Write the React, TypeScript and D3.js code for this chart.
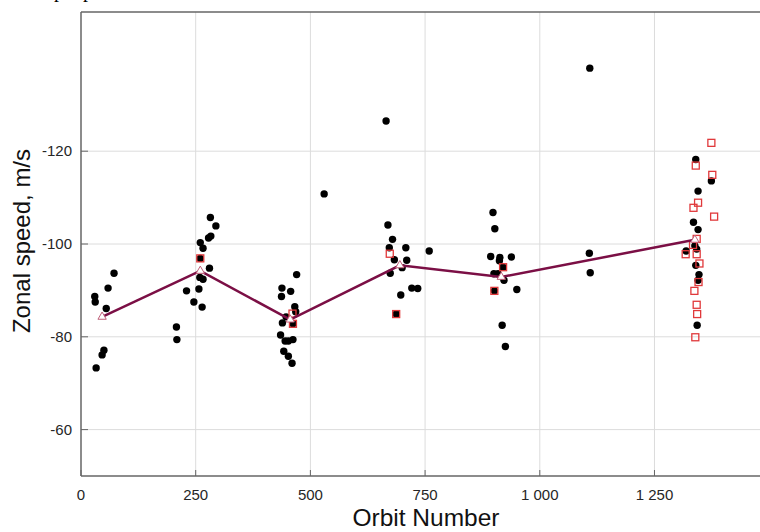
import React from 'react';
import * as d3 from 'd3';

// black dots: orbit number and zonal speed (m/s)
const dotOrbit = [
  30, 31, 72, 59, 55, 50, 46, 33,
  208, 209,
  230, 246, 257, 264, 260, 266, 282, 294, 278, 283, 280, 260, 259, 266,
  438, 437, 457, 470, 466, 468, 447, 439, 462, 435, 445, 452, 462, 442, 452, 460,
  530,
  665, 669, 679, 672, 708, 683, 710, 700, 674, 697, 721, 734, 759, 687,
  898, 902, 893, 913, 912, 938, 920, 900, 909, 922, 901, 950, 918, 925,
  1108, 1110, 1109,
  1340, 1374, 1345, 1335, 1345, 1319, 1338, 1342, 1340, 1347, 1345, 1343,
];
const dotSpeed = [
  -88.7, -87.5, -93.7, -90.5, -86.1, -77.1, -76.1, -73.3,
  -82.1, -79.4,
  -89.9, -87.5, -90.3, -86.4, -100.3, -99.1, -105.7, -103.9, -101.3, -101.7, -94.8, -96.9, -92.8, -92.4,
  -90.5, -88.7, -89.8, -93.4, -86.5, -85.4, -84.3, -83.0, -82.8, -80.4, -79.1, -79.1, -79.4, -76.9, -75.8, -74.3,
  -110.8,
  -126.5, -104.1, -101.0, -99.2, -99.2, -96.6, -96.5, -94.9, -93.7, -89.0, -90.5, -90.4, -98.5, -84.9,
  -106.8, -103.3, -97.3, -97.1, -96.4, -97.2, -95.0, -93.6, -93.6, -92.2, -89.9, -90.2, -82.5, -77.9,
  -98.0, -93.8, -137.9,
  -118.2, -113.6, -111.4, -104.7, -103.1, -98.5, -99.6, -98.9, -95.4, -93.4, -92.2, -82.5,
];

// red open squares
const squareOrbit = [
  260, 461, 462, 673, 687, 920, 901,
  1374, 1340, 1376, 1345, 1335, 1380, 1342, 1334, 1318, 1342, 1348, 1346, 1337, 1342, 1343, 1339,
];
const squareSpeed = [
  -96.9, -85.0, -82.8, -97.9, -84.9, -95.0, -89.9,
  -121.8, -116.9, -114.9, -108.9, -107.8, -105.9, -101.1, -99.8, -97.8, -97.8, -95.8, -91.8, -89.9, -86.9, -84.9, -79.9,
];

// mean line with open triangles
const meanOrbit = [46, 260, 456, 695, 916, 1338];
const meanSpeed = [-84.3, -94.2, -83.7, -95.4, -92.9, -100.9];

const xTicks = [0, 250, 500, 750, 1000, 1250];
const yTicks = [-120, -100, -80, -60];

const W = 760;
const H = 532;
const left = 81;
const top = 12;
const bottom = 476;

const fmt = (v: number) => (v >= 1000 ? d3.format(',')(v).replace(',', ' ') : String(v));

export default function App() {
  const x = d3.scaleLinear().domain([0, 1480]).range([left, W]);
  const y = d3.scaleLinear().domain([-150, -50]).range([top, bottom]);

  const meanLine = d3
    .line<number>()
    .x((d, i) => x(meanOrbit[i]))
    .y((d) => y(d))(meanSpeed);

  const tri = d3.symbol().type(d3.symbolTriangle).size(30)();
  const font = '"Liberation Sans", Arial, sans-serif';

  return (
    <svg
      width={W}
      height={H}
      style={{ position: 'absolute', left: 0, top: 0, background: '#fff' }}
      fontFamily={font}
    >
      {/* cut-off caption descenders */}
      <text x={54} y={-3} fontFamily="'Liberation Serif', serif" fontSize={20} fill="#000">p</text>
      <text x={83} y={-3} fontFamily="'Liberation Serif', serif" fontSize={20} fill="#000">p</text>

      {/* grid */}
      {xTicks.slice(1).map((t) => (
        <line key={'gx' + t} x1={x(t)} x2={x(t)} y1={top} y2={bottom} stroke="#dcdcdc" strokeWidth={1} />
      ))}
      {yTicks.map((t) => (
        <line key={'gy' + t} x1={left} x2={W} y1={y(t)} y2={y(t)} stroke="#dcdcdc" strokeWidth={1} />
      ))}

      {/* frame */}
      <line x1={left} x2={W} y1={top} y2={top} stroke="#666" strokeWidth={1.5} />
      <line x1={left} x2={W} y1={bottom} y2={bottom} stroke="#666" strokeWidth={1.5} />
      <line x1={left} x2={left} y1={top} y2={bottom} stroke="#666" strokeWidth={1.5} />

      {/* ticks and labels */}
      {xTicks.map((t) => (
        <g key={'tx' + t}>
          <line x1={x(t)} x2={x(t)} y1={bottom} y2={bottom - 6} stroke="#666" />
          <text x={x(t)} y={500} textAnchor="middle" fontSize={15} fill="#262626">
            {fmt(t)}
          </text>
        </g>
      ))}
      {yTicks.map((t) => (
        <g key={'ty' + t}>
          <line x1={left} x2={left + 7} y1={y(t)} y2={y(t)} stroke="#666" />
          <text x={72} y={y(t) + 5} textAnchor="end" fontSize={15} fill="#262626">
            {t}
          </text>
        </g>
      ))}

      {/* axis titles */}
      <text x={426} y={526} textAnchor="middle" fontSize={24.5} fill="#111">
        Orbit Number
      </text>
      <text
        transform={`translate(30, 241) rotate(-90)`}
        textAnchor="middle"
        fontSize={24}
        fill="#111"
      >
        Zonal speed, m/s
      </text>

      {/* black dots */}
      {dotOrbit.map((o, i) => (
        <circle key={'d' + i} cx={x(o)} cy={y(dotSpeed[i])} r={3.7} fill="#000" />
      ))}

      {/* red squares */}
      {squareOrbit.map((o, i) => (
        <rect
          key={'s' + i}
          x={x(o) - 3.5}
          y={y(squareSpeed[i]) - 3.5}
          width={7}
          height={7}
          fill="none"
          stroke="#e0393b"
          strokeWidth={1.3}
        />
      ))}

      {/* mean line */}
      <path d={meanLine || ''} fill="none" stroke="#7b0f45" strokeWidth={2.5} />
      {meanOrbit.map((o, i) => (
        <path
          key={'m' + i}
          d={tri || ''}
          transform={`translate(${x(o)},${y(meanSpeed[i])})`}
          fill="#fff"
          stroke="#c0607a"
          strokeWidth={1}
        />
      ))}
    </svg>
  );
}
